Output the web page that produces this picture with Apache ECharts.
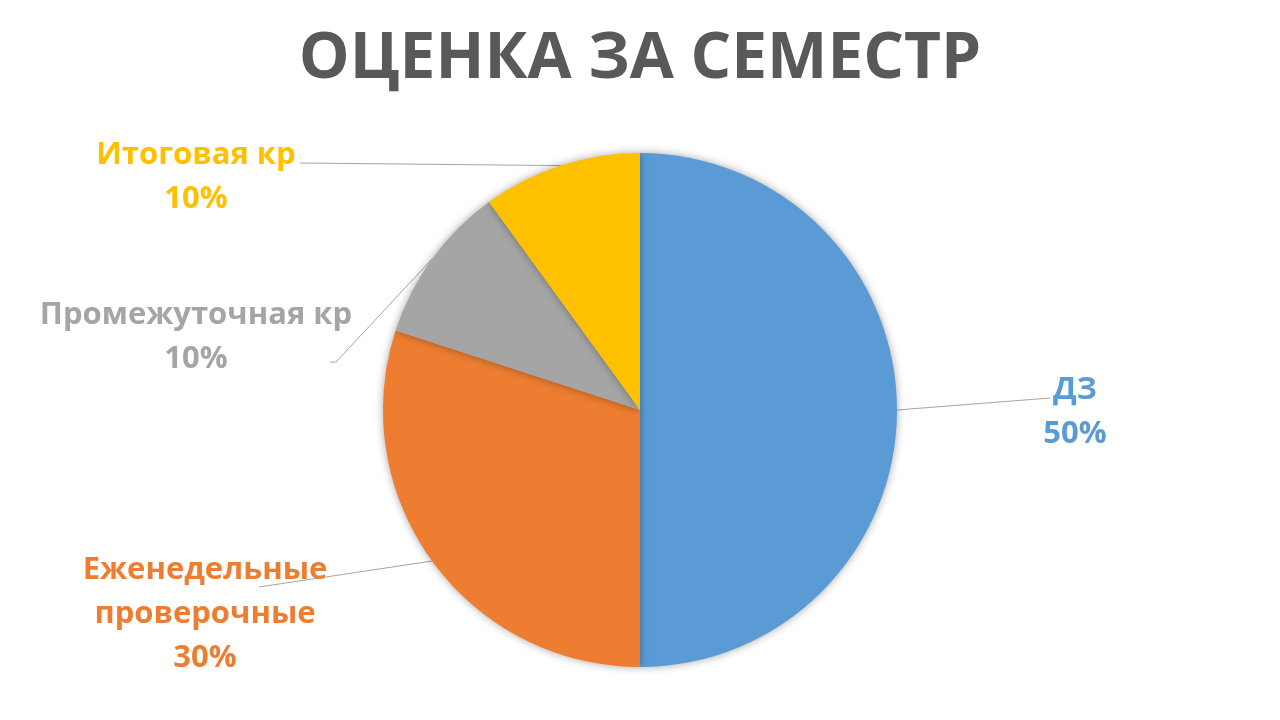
<!DOCTYPE html>
<html>
<head>
<meta charset="utf-8">
<script src="https://cdn.jsdelivr.net/npm/echarts@6/dist/echarts.min.js"></script>
<style>html,body{margin:0;padding:0;background:#fff;}#c{width:1280px;height:720px;}</style>
</head>
<body>
<div id="c"></div>
<script>
const titleText = 'ОЦЕНКА ЗА СЕМЕСТР';
const categories = ['ДЗ', 'Еженедельные\nпроверочные', 'Промежуточная кр', 'Итоговая кр'];
const values = [50, 30, 10, 10];
const colors = ['#5B9BD5', '#ED7D31', '#A5A5A5', '#FFC000'];

// label anchor placements (text centre x, top y, line end point)
const labelPlaces = [
  {x: 1075, y: 368, lx: 1050, ly: 398},
  {x: 205, y: 548, lx: 259, ly: 587},
  {x: 196, y: 293, lx: 330, ly: 362, bend: 336},
  {x: 196, y: 133, lx: 300, ly: 163}
];

const chart = echarts.init(document.getElementById('c'));
chart.setOption({
  backgroundColor: '#ffffff',
  animation: false,
  title: {
    text: titleText,
    left: 'center',
    top: 21,
    textStyle: {fontFamily: 'Open Sans', fontWeight: 'bold', fontSize: 64, color: '#595959', lineHeight: 68}
  },
  series: [{
    type: 'pie',
    center: [640, 410],
    radius: 257,
    startAngle: 90,
    clockwise: true,
    data: categories.map((n, i) => ({name: n, value: values[i], itemStyle: {color: colors[i]}, label: {color: colors[i]}})),
    itemStyle: {shadowBlur: 8, shadowColor: 'rgba(0,0,0,0.35)', borderWidth: 0},
    label: {
      show: true,
      formatter: p => p.name + '\n' + p.percent + '%',
      fontFamily: 'Open Sans',
      fontWeight: 'bold',
      fontSize: 31,
      lineHeight: 44,
      align: 'center'
    },
    labelLine: {show: true, lineStyle: {color: '#A6A6A6', width: 1}},
    labelLayout: function (params) {
      const pl = labelPlaces[params.dataIndex];
      const pts = params.labelLinePoints;
      const edge = pts ? pts[0] : [pl.lx, pl.ly];
      const linePts = pl.bend ? [edge, [pl.bend, pl.ly], [pl.lx, pl.ly]] : [edge, [pl.lx, pl.ly], [pl.lx, pl.ly]];
      return {
        x: pl.x,
        y: pl.y,
        align: 'center',
        verticalAlign: 'top',
        labelLinePoints: linePts
      };
    }
  }]
});
</script>
</body>
</html>
